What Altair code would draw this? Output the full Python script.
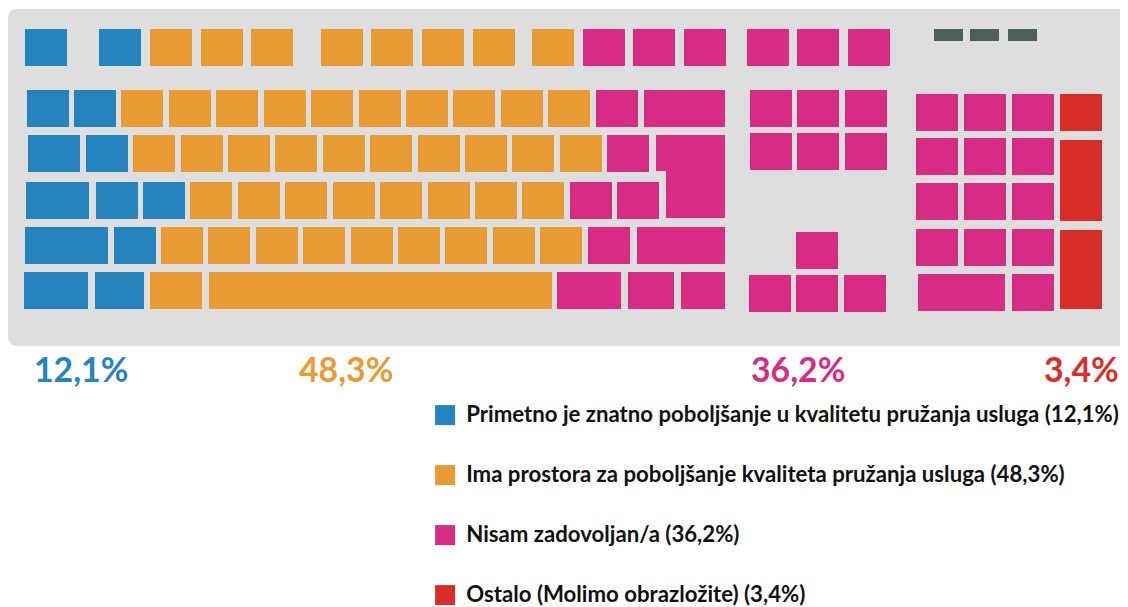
import altair as alt
import pandas as pd

CATS = [
    "Primetno je znatno poboljšanje u kvalitetu pružanja usluga (12,1%)",
    "Ima prostora za poboljšanje kvaliteta pružanja usluga (48,3%)",
    "Nisam zadovoljan/a (36,2%)",
    "Ostalo (Molimo obrazložite) (3,4%)",
]
COLORS = ["#2584BD", "#E89B32", "#D72C84", "#D92D27"]
B, O, P, R = 0, 1, 2, 3

# each row: (top, bottom, [(left, right, category), ...])
row_fn = (29, 66, [(25, 67, B), (99, 141, B), (150, 192, O), (201, 243, O), (251, 293, O),
                   (321, 363, O), (371, 413, O), (422, 464, O), (473, 515, O), (532, 574, O),
                   (583, 625, P), (633, 675, P), (684, 726, P), (747, 789, P), (797, 839, P), (848, 890, P)])
row_1 = (90, 127, [(27, 69, B), (74, 116, B), (121, 163, O), (169, 211, O), (216, 258, O), (264, 306, O),
                   (311, 353, O), (359, 401, O), (406, 448, O), (453, 495, O), (501, 543, O), (548, 590, O),
                   (596, 638, P), (644, 725, P), (750, 792, P), (797, 839, P), (845, 887, P)])
row_2 = (135, 172, [(28, 80, B), (86, 128, B), (133, 175, O), (181, 223, O), (228, 270, O), (275, 317, O),
                    (323, 365, O), (370, 412, O), (418, 460, O), (465, 507, O), (512, 554, O), (560, 602, O),
                    (607, 649, P)])
row_3 = (182, 219, [(26, 89, B), (96, 138, B), (143, 185, B), (190, 232, O), (238, 280, O), (285, 327, O),
                    (333, 375, O), (380, 422, O), (428, 470, O), (475, 517, O), (522, 564, O),
                    (570, 612, P), (617, 659, P)])
row_4 = (227, 264, [(25, 108, B), (114, 156, B), (161, 203, O), (208, 250, O), (256, 298, O), (303, 345, O),
                    (351, 393, O), (398, 440, O), (445, 487, O), (493, 535, O), (540, 582, O),
                    (588, 630, P), (637, 725, P)])
row_5 = (272, 309, [(24, 88, B), (95, 144, B), (150, 202, O), (209, 552, O),
                    (557, 621, P), (628, 674, P), (681, 725, P)])
enter_top = (135, 171, [(656, 725, P)])
enter_low = (171, 218, [(666, 725, P)])
nav_2 = (133, 170, [(750, 792, P), (797, 839, P), (845, 887, P)])
arrow_up = (232, 269, [(796, 838, P)])
arrows = (275, 312, [(749, 791, P), (796, 838, P), (844, 886, P)])
pad_1 = (94, 131, [(916, 958, P), (964, 1006, P), (1012, 1054, P), (1060, 1102, R)])
pad_2 = (138, 175, [(916, 958, P), (964, 1006, P), (1012, 1054, P)])
pad_3 = (183, 220, [(916, 958, P), (964, 1006, P), (1012, 1054, P)])
pad_4 = (229, 266, [(916, 958, P), (964, 1006, P), (1012, 1054, P)])
pad_5 = (274, 311, [(918, 1005, P), (1012, 1054, P)])
pad_plus = (140, 221, [(1060, 1102, R)])
pad_enter = (230, 309, [(1060, 1102, R)])

ROWS = [row_fn, row_1, row_2, row_3, row_4, row_5, enter_top, enter_low, nav_2, arrow_up, arrows,
        pad_1, pad_2, pad_3, pad_4, pad_5, pad_plus, pad_enter]

indicator_x0 = [934, 970, 1008]
indicator_x1 = [963, 999, 1037]
indicator_y0 = [29, 29, 29]
indicator_y1 = [41, 41, 41]

case_x0 = [8]
case_x1 = [1160]
case_y0 = [9]
case_y1 = [346]

pct_labels = ["12,1%", "48,3%", "36,2%", "3,4%"]
pct_x = [34, 299, 751, 1044]
pct_y = [382, 382, 382, 382]

keys = pd.DataFrame(
    [{"x0": a, "x1": b, "y0": t, "y1": u, "cat": CATS[c]} for t, u, ks in ROWS for a, b, c in ks]
)
indicators = pd.DataFrame({"x0": indicator_x0, "x1": indicator_x1, "y0": indicator_y0, "y1": indicator_y1})
case = pd.DataFrame({"x0": case_x0, "x1": case_x1, "y0": case_y0, "y1": case_y1})
pcts = pd.DataFrame({"x": pct_x, "y": pct_y, "t": pct_labels, "cat": CATS})

W, H = 1112, 599
xs = alt.Scale(domain=[8, 1120], nice=False, zero=False)
ys = alt.Scale(domain=[607, 8], nice=False, zero=False)
xe = alt.X("x0:Q", scale=xs, axis=None)
ye = alt.Y("y0:Q", scale=ys, axis=None)
color_scale = alt.Scale(domain=CATS, range=COLORS)

case_layer = alt.Chart(case).mark_rect(color="#DEDEDE", cornerRadius=9).encode(
    x=xe, x2="x1:Q", y=ye, y2="y1:Q")
ind_layer = alt.Chart(indicators).mark_rect(color="#4D5E5E").encode(
    x=xe, x2="x1:Q", y=ye, y2="y1:Q")
key_layer = alt.Chart(keys).mark_rect().encode(
    x=xe, x2="x1:Q", y=ye, y2="y1:Q",
    color=alt.Color(
        "cat:N", scale=color_scale, sort=CATS,
        legend=alt.Legend(
            title=None, orient="none", legendX=426, legendY=396, direction="vertical",
            symbolType="square", symbolSize=400, symbolStrokeWidth=0, symbolOpacity=1,
            labelFont="Lato", labelFontWeight="bold", labelFontSize=22.2, labelColor="#111111",
            labelLimit=0, labelOffset=10, rowPadding=37, padding=0,
        ),
    ),
)
txt_layer = alt.Chart(pcts).mark_text(
    font="Lato", fontWeight="bold", fontSize=33.8, align="left", baseline="alphabetic"
).encode(
    x=alt.X("x:Q", scale=xs, axis=None),
    y=alt.Y("y:Q", scale=ys, axis=None),
    text="t:N",
    color=alt.Color("cat:N", scale=color_scale, sort=CATS, legend=None),
)

chart = alt.layer(case_layer, ind_layer, key_layer, txt_layer).properties(
    width=W, height=H, padding=0, autosize=alt.AutoSizeParams(type="none"),
    background="white",
).configure_view(stroke=None)

chart.save("out.html", embed_options={"renderer": "svg", "actions": False})
